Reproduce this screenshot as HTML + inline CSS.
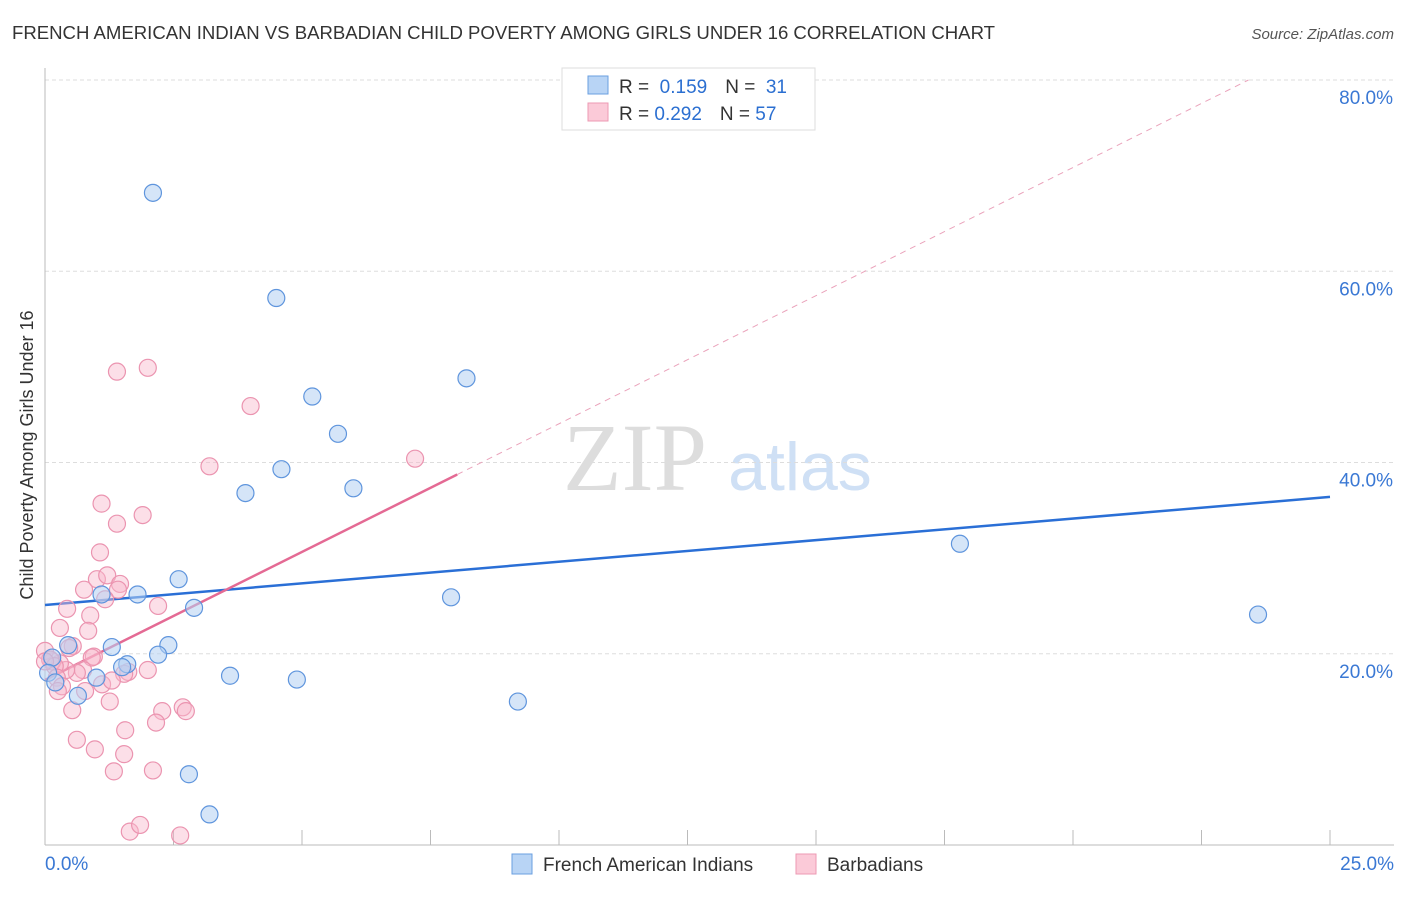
<!DOCTYPE html>
<html><head><meta charset="utf-8">
<style>
body{margin:0;background:#fff;font-family:"Liberation Sans",sans-serif;}
svg text{font-family:"Liberation Sans",sans-serif;}
</style></head>
<body>
<svg id="chart" width="1406" height="892" xmlns="http://www.w3.org/2000/svg">
<text x="12" y="39" font-size="18.6" fill="#333" textLength="983">FRENCH AMERICAN INDIAN VS BARBADIAN CHILD POVERTY AMONG GIRLS UNDER 16 CORRELATION CHART</text>
<text x="1394" y="39" font-size="15" fill="#555" font-style="italic" text-anchor="end">Source: ZipAtlas.com</text>
<text x="33" y="455" font-size="18" fill="#333" text-anchor="middle" transform="rotate(-90 33 455)">Child Poverty Among Girls Under 16</text>
<g>
<text x="635" y="490" font-size="96" fill="#ddd" font-family="Liberation Serif" text-anchor="middle" style="font-family:'Liberation Serif',serif">ZIP</text>
<text x="800" y="490" font-size="68" fill="#cfe0f5" text-anchor="middle">atlas</text>
</g>
<g id="grid"></g><g id="axes"></g><g id="trend"></g><g id="points"></g>
<g>
<rect x="562" y="68" width="253" height="62" fill="#fff" stroke="#ddd"/>
<rect x="588" y="76" width="20" height="18" fill="#b8d4f5" stroke="#6a9fe0"/>
<rect x="588" y="103" width="20" height="18" fill="#fbcad8" stroke="#ec9ab3"/>
<text x="619" y="93" font-size="19" fill="#333">R = <tspan fill="#2b6fd1">&#160;0.159</tspan><tspan dx="18">N = </tspan><tspan fill="#2b6fd1">&#160;31</tspan></text>
<text x="619" y="120" font-size="19" fill="#333">R = <tspan fill="#2b6fd1">0.292</tspan><tspan dx="18">N = </tspan><tspan fill="#2b6fd1">57</tspan></text>
</g>
<g>
<rect x="512" y="854" width="20" height="20" fill="#b8d4f5" stroke="#6a9fe0"/>
<text x="543" y="871" font-size="19" fill="#333">French American Indians</text>
<rect x="796" y="854" width="20" height="20" fill="#fbcad8" stroke="#ec9ab3"/>
<text x="827" y="871" font-size="19" fill="#333">Barbadians</text>
</g>
</svg>
<script>
const yTicks=[20,40,60,80];
const xTickLabels=["0.0%","25.0%"];
const blueX=[2.1,4.5,5.2,8.2,5.7,4.6,3.9,6.0,17.8,23.6,2.6,1.8,1.1,2.9,7.9,2.4,1.3,0.45,2.2,1.6,1.5,0.14,1.0,3.6,4.9,0.64,9.2,2.8,3.2,0.06,0.2];
const blueY=[68.2,57.2,46.9,48.8,43.0,39.3,36.8,37.3,31.5,24.1,27.8,26.2,26.2,24.8,25.9,20.9,20.7,20.9,19.9,18.9,18.6,19.6,17.5,17.7,17.3,15.6,15.0,7.4,3.2,18.0,17.0];
const pinkX=[2.0,1.4,4.0,3.2,7.2,1.1,1.9,1.4,1.07,0.76,1.01,1.21,1.46,1.42,1.17,2.2,0.43,0.88,0.84,0.29,0.54,0.47,0.95,0.91,2.0,1.62,1.54,0.74,0.62,0.41,0.29,0.14,0.0,0.1,0.19,0.23,0.33,1.11,1.3,0.78,2.68,2.74,1.26,0.25,0.53,2.28,1.56,2.16,0.62,0.97,1.54,1.34,2.1,1.65,1.85,2.63,0.0];
const pinkY=[49.9,49.5,45.9,39.6,40.4,35.7,34.5,33.6,30.6,26.7,27.8,28.2,27.3,26.7,25.7,25.0,24.7,24.0,22.4,22.7,20.8,20.6,19.7,19.6,18.3,18.1,17.9,18.3,18.0,18.3,19.0,19.2,20.3,19.4,18.7,17.5,16.6,16.8,17.2,16.1,14.4,14.0,15.0,16.1,14.1,14.0,12.0,12.8,11.0,10.0,9.5,7.7,7.8,1.4,2.1,1.0,19.2];
const blueTrend=[25.1,36.4];
const pinkTrend=[17.25,2.68];
const NS="http://www.w3.org/2000/svg";
const X0=45,X1=1330,Y0=845,Y80=80;
const sx=v=>X0+(v/25)*(X1-X0);
const sy=v=>Y0-(v/80)*(Y0-Y80);
function mk(tag,attrs,parent){const e=document.createElementNS(NS,tag);for(const k in attrs)e.setAttribute(k,attrs[k]);parent.appendChild(e);return e;}
const grid=document.getElementById('grid'),axes=document.getElementById('axes'),trend=document.getElementById('trend'),pts=document.getElementById('points');
yTicks.forEach(t=>{
 const l=mk('line',{x1:X0,x2:1394,y1:sy(t),y2:sy(t),stroke:'#ddd','stroke-dasharray':'4,3'},grid);
 
 
 const tx=mk('text',{x:1393,y:sy(t)+24,'font-size':19,fill:'#3a78d4','text-anchor':'end'},grid);
 tx.textContent=t.toFixed(1)+'%';
 
 
});
let a=mk('line',{x1:X0,x2:X0,y1:68,y2:Y0,stroke:'#bbb'},axes);


a=mk('line',{x1:X0,x2:1394,y1:Y0,y2:Y0,stroke:'#bbb'},axes);


for(let i=1;i<=10;i++){const x=sx(i*2.5);const t=mk('line',{x1:x,x2:x,y1:Y0-15,y2:Y0,stroke:'#bbb'},axes);
 
 }
[[X0+0,'start',xTickLabels[0]],[1394,'end',xTickLabels[1]]].forEach(([x,an,s])=>{const t=mk('text',{x:x,y:870,'font-size':19,fill:'#3a78d4','text-anchor':an},axes);t.textContent=s;
 
 });
let l=mk('line',{x1:sx(0),y1:sy(blueTrend[0]),x2:sx(25),y2:sy(blueTrend[1]),stroke:'#2a6fd6','stroke-width':2.5},trend);


const pe=v=>pinkTrend[0]+pinkTrend[1]*v;
l=mk('line',{x1:sx(0),y1:sy(pe(0)),x2:sx(8.02),y2:sy(pe(8.02)),stroke:'#e46a94','stroke-width':2.5},trend);


const xe=(80-pinkTrend[0])/pinkTrend[1];
l=mk('line',{x1:sx(8.02),y1:sy(pe(8.02)),x2:sx(xe),y2:sy(80),stroke:'#eaa3bb','stroke-width':1,'stroke-dasharray':'6,5'},trend);


pinkX.forEach((v,i)=>{const c=mk('circle',{cx:sx(v),cy:sy(pinkY[i]),r:8.5,fill:'rgba(248,184,204,0.45)',stroke:'#eb94b0','stroke-width':1.2},pts);
 
 });
blueX.forEach((v,i)=>{const c=mk('circle',{cx:sx(v),cy:sy(blueY[i]),r:8.5,fill:'rgba(178,208,243,0.55)',stroke:'#5f95dd','stroke-width':1.2},pts);
 
 });
</script>
</body></html>
